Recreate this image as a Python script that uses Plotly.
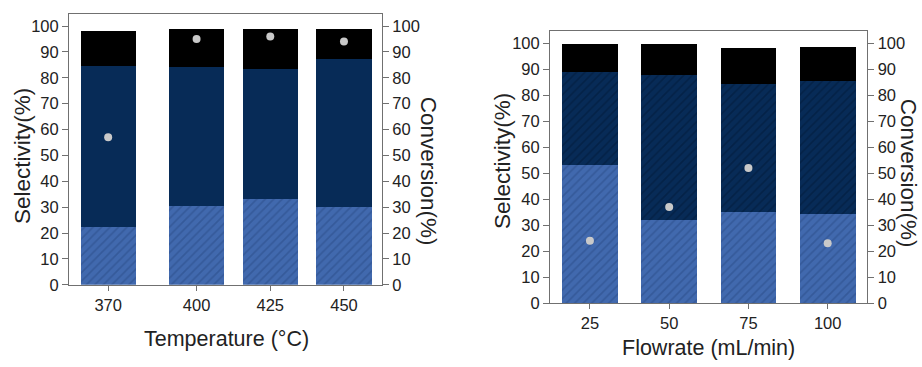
import plotly.graph_objects as go

# ---- data ----
temps = [370, 400, 425, 450]
t_seg1 = [22.3, 30.5, 33.2, 30.0]   # bottom (hatched blue)
t_seg2 = [62.4, 53.7, 50.2, 57.1]   # middle (navy)
t_seg3 = [13.5, 14.8, 15.4, 11.9]   # top (black)
t_conv = [57, 95, 96, 94]

flows = [25, 50, 75, 100]
f_seg1 = [53.1, 32.0, 35.0, 34.4]
f_seg2 = [35.8, 56.0, 49.3, 51.3]
f_seg3 = [10.9, 11.8, 14.0, 13.0]
f_conv = [24, 37, 52, 23]

y_ticks = list(range(0, 101, 10))

BLUE = "#4169ae"
BLUE_FG = "#294b86"
NAVY = "#072b57"
NAVY_FG = "#021a38"
BLACK = "#000000"
DOT = "#c9c9c9"
AX = "#707070"
FONT = "Liberation Sans, Arial, sans-serif"

fig = go.Figure()

def add_panel(x, s1, s2, s3, conv, xa, ya, ya2, width, navy_hatch):
    fig.add_trace(go.Bar(x=x, y=s1, width=width, xaxis=xa, yaxis=ya,
                         marker=dict(color=BLUE, line=dict(width=0),
                                     pattern=dict(shape="/", bgcolor=BLUE, fgcolor=BLUE_FG,
                                                  size=6, solidity=0.3)),
                         showlegend=False))
    navy_pat = dict(shape="/", bgcolor=NAVY, fgcolor=NAVY_FG, size=6, solidity=0.3) if navy_hatch else dict(shape="")
    fig.add_trace(go.Bar(x=x, y=s2, width=width, xaxis=xa, yaxis=ya,
                         marker=dict(color=NAVY, line=dict(width=0), pattern=navy_pat),
                         showlegend=False))
    fig.add_trace(go.Bar(x=x, y=s3, width=width, xaxis=xa, yaxis=ya,
                         marker=dict(color=BLACK, line=dict(width=0)),
                         showlegend=False))
    fig.add_trace(go.Scatter(x=x, y=conv, mode="markers", xaxis=xa, yaxis=ya2,
                             marker=dict(color=DOT, size=8, line=dict(width=0)),
                             showlegend=False))

add_panel(temps, t_seg1, t_seg2, t_seg3, t_conv, "x", "y", "y3", 18.7, False)
add_panel(flows, f_seg1, f_seg2, f_seg3, f_conv, "x2", "y2", "y4", 17.6, True)

tickfont = dict(family=FONT, size=16.5, color="#222222")
common_y = dict(range=[0, 104.8], tickvals=y_ticks, ticks="outside", ticklen=6,
                tickcolor=AX, showline=True, linecolor=AX, linewidth=1,
                showgrid=False, zeroline=False, tickfont=tickfont)
common_x = dict(ticks="outside", ticklen=5, tickcolor=AX, showline=True, linecolor=AX,
                linewidth=1, mirror=True, showgrid=False, zeroline=False, tickfont=tickfont)

fig.update_layout(
    width=922, height=367, margin=dict(l=0, r=0, t=0, b=0),
    paper_bgcolor="white", plot_bgcolor="white", barmode="stack",
    font=dict(family=FONT, color="#222222"),
    xaxis=dict(domain=[0.0748, 0.4143], range=[356.7, 462.9], tickvals=temps,
               anchor="y", **common_x),
    yaxis=dict(domain=[0.2044, 0.9619], anchor="x", **common_y),
    yaxis3=dict(overlaying="y", side="right", anchor="x", **common_y),
    xaxis2=dict(domain=[0.5965, 0.9407], range=[12.4, 112.5], tickvals=flows,
                anchor="y2", **common_x),
    yaxis2=dict(domain=[0.1534, 0.9136], anchor="x2", **common_y),
    yaxis4=dict(overlaying="y2", side="right", anchor="x2", **common_y),
)

title_font = dict(family=FONT, size=21.5, color="#222222")
vfont = dict(family=FONT, size=22.5, color="#222222")
ann = [
    dict(text="Selectivity(%)", x=22, y=160, textangle=-90, font=vfont),
    dict(text="Conversion(%)", x=428, y=175, textangle=90, font=vfont),
    dict(text="Temperature (°C)", x=226.5, y=348, textangle=0, font=title_font),
    dict(text="Selectivity(%)", x=503, y=165, textangle=-90, font=vfont),
    dict(text="Conversion(%)", x=908, y=177, textangle=90, font=vfont),
    dict(text="Flowrate (mL/min)", x=708.5, y=357, textangle=0, font=title_font),
]
for a in ann:
    fig.add_annotation(text=a["text"], x=a["x"] / 922, y=1 - a["y"] / 367,
                       xref="paper", yref="paper", showarrow=False,
                       xanchor="center", yanchor="middle", textangle=a["textangle"],
                       font=a["font"])

fig.write_html("out.html")
